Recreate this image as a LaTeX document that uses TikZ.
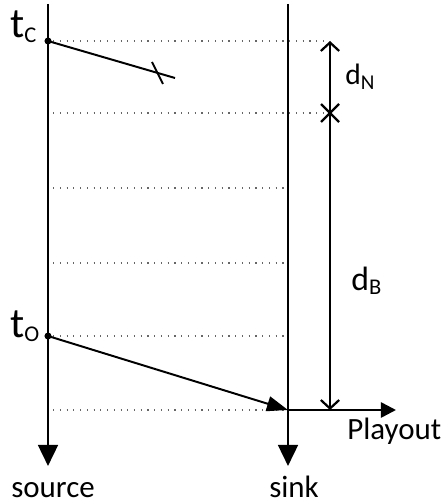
\documentclass[tikz,border=0pt]{standalone}
\usepackage{fontspec}
\setmainfont{Carlito}
\usetikzlibrary{arrows.meta}
\newcommand{\symlbl}[4]{{\fontsize{#3}{#3}\selectfont #1}\raisebox{-3pt}{\fontsize{#4}{#4}\selectfont #2}}

\begin{document}
\begin{tikzpicture}[x=0.025cm, y=-0.025cm,
    axis/.style={line width=2pt, -{Triangle[length=15pt,width=14pt]}},
    msg/.style={line width=1.4pt},
    span/.style={line width=1.6pt},
    guide/.style={black!60, line width=0.8pt, dash pattern=on 0.8pt off 4pt},
    dot/.style={circle, fill, inner sep=0pt, minimum size=5pt},
    lbl/.style={inner sep=0pt, anchor=base west, font=\fontsize{22}{24}\selectfont}]
        \useasboundingbox (0,0) rectangle (445,504);
        % time lines
        \coordinate (srcTop) at (48,4);
        \coordinate (srcEnd) at (48,466);
        \coordinate (snkTop) at (288,4);
        \coordinate (snkEnd) at (288,466);
        \foreach \y in {188,263,336,410}
            \draw[guide] (53,\y) -- (286,\y);
        \foreach \y in {41,113}
            \draw[guide] (53,\y) -- (326,\y);
        \draw[axis] (srcTop) -- (srcEnd);
        \draw[axis] (snkTop) -- (snkEnd);
        \node[lbl] (source) at (11,497) {source};
        \node[lbl] (sink) at (269,497) {sink};
        % packets
        \node[dot] (tcDot) at (48,41) {};
        \node[dot] (toDot) at (48,336) {};
        \node[lbl] (tcLbl) at (10,38) {\symlbl{t}{C}{30}{16}};
        \node[lbl] (toLbl) at (10,337) {\symlbl{t}{O}{30}{16}};
        \coordinate (lost) at (175,78);
        \coordinate (drop) at (157.5,73);
        \coordinate (rcv) at (288,410);
        \draw[msg] (tcDot.center) -- (lost);
        \draw[msg] (drop) +(-5.5,-11) -- +(5.5,11);
        \draw[msg, -{Triangle[length=15pt,width=10.7pt]}] (toDot.center) -- (rcv);
        % playout
        \coordinate (play) at (396,410);
        \draw[line width=1.8pt, -{Triangle[length=10.7pt,width=10.7pt]}] (rcv) -- (play);
        \node[lbl] (playLbl) at (347,439) {Playout};
        % delays
        \coordinate (bTop) at (330,41);
        \coordinate (bMid) at (330,113);
        \coordinate (bBot) at (330,410);
        \draw[span, {Straight Barb[length=6pt,width=13pt]}-{Straight Barb[length=6pt,width=13pt]}] (bTop) -- (bBot);
        \draw[span] (bMid) +(-9,-9) -- +(9,9) (bMid) +(-9,9) -- +(9,-9);
        \node[lbl] (dN) at (345,85) {\symlbl{d}{N}{21}{15}};
        \node[lbl] (dB) at (351,290) {\symlbl{d}{B}{24}{16}};
    \end{tikzpicture}
\end{document}
